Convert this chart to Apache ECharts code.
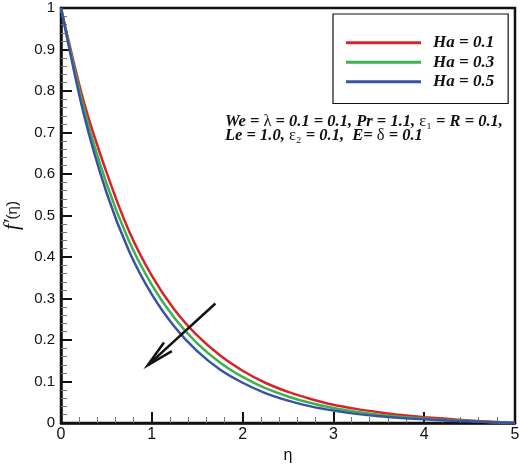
<!DOCTYPE html>
<html>
<head>
<meta charset="utf-8">
<script src="https://cdn.jsdelivr.net/npm/echarts@6/dist/echarts.min.js"></script>
<style>
html,body{margin:0;padding:0;background:#fff;}
#chart{width:520px;height:464px;}
</style>
</head>
<body>
<div id="chart"></div>
<script>
const eta   = [0, 0.25, 0.5, 0.75, 1.0, 1.25, 1.5, 1.75, 2.0, 2.25, 2.5, 2.75, 3.0, 3.25, 3.5, 3.75, 4.0, 4.25, 4.5, 4.75, 5.0];
const ha01  = [1.000, 0.775, 0.605, 0.462, 0.355, 0.273, 0.211, 0.163, 0.126, 0.097, 0.075, 0.058, 0.044, 0.034, 0.026, 0.019, 0.014, 0.010, 0.006, 0.003, 0.000];
const ha03  = [1.000, 0.760, 0.578, 0.438, 0.333, 0.253, 0.192, 0.146, 0.111, 0.084, 0.064, 0.048, 0.036, 0.027, 0.020, 0.015, 0.011, 0.007, 0.005, 0.002, 0.000];
const ha05  = [1.000, 0.745, 0.556, 0.414, 0.310, 0.232, 0.173, 0.129, 0.097, 0.072, 0.054, 0.040, 0.030, 0.022, 0.016, 0.012, 0.009, 0.006, 0.004, 0.002, 0.000];
const seriesNames = ['Ha = 0.1', 'Ha = 0.3', 'Ha = 0.5'];
const seriesColors = ['#d8232a', '#3bb34a', '#3953a4'];
const xTicks = [0, 1, 2, 3, 4, 5];
const yTicks = [0, 0.1, 0.2, 0.3, 0.4, 0.5, 0.6, 0.7, 0.8, 0.9, 1];
// arrow annotation: [start eta, start f', tip eta, tip f']
const arrow = [1.70, 0.288, 0.955, 0.139];

const chart = echarts.init(document.getElementById('chart'), null, {renderer: 'canvas'});
const toPairs = vals => eta.map((e, i) => [e, vals[i]]);
const curves = [ha01, ha03, ha05].map((vals, i) => ({
  name: seriesNames[i],
  type: 'line',
  data: toPairs(vals),
  smooth: 0.3,
  showSymbol: false,
  symbol: 'none',
  lineStyle: {color: seriesColors[i], width: 2.5},
  itemStyle: {color: seriesColors[i]},
  z: 2
}));

const axisFont = {fontFamily: 'Liberation Sans, Arial, sans-serif', color: '#111'};
chart.setOption({
  animation: false,
  backgroundColor: '#fff',
  grid: {left: 61, right: 5, top: 8, bottom: 41, show: true, borderColor: '#111', borderWidth: 2.5, backgroundColor: 'transparent', containLabel: false, outerBoundsMode: 'none'},
  legend: {
    data: seriesNames,
    orient: 'vertical',
    left: 333, top: 14,
    padding: [19, 14, 12, 13],
    itemGap: 0,
    itemWidth: 75, itemHeight: 3,
    icon: 'rect',
    borderColor: '#111', borderWidth: 1.2,
    backgroundColor: '#fff',
    selectedMode: false,
    textStyle: {fontFamily: 'Liberation Serif, Times New Roman, serif', fontStyle: 'italic', fontWeight: 'bold', fontSize: 17, color: '#111', lineHeight: 19.5, padding: [0, 0, 0, 7]}
  },
  xAxis: {
    type: 'value', min: 0, max: 5, interval: 1,
    name: 'η', nameLocation: 'middle', nameGap: 24,
    nameTextStyle: Object.assign({fontSize: 16}, axisFont),
    axisLine: {show: true, onZero: false, lineStyle: {color: '#111', width: 2.5}},
    axisTick: {show: true, inside: true, length: 11, lineStyle: {color: '#111', width: 2}},
    minorTick: {show: true, splitNumber: 5, length: 6, lineStyle: {color: '#777', width: 1}},
    axisLabel: Object.assign({fontSize: 16, margin: 4, formatter: v => xTicks.includes(v) ? String(v) : ''}, axisFont),
    splitLine: {show: false}
  },
  yAxis: {
    type: 'value', min: 0, max: 1, interval: 0.1,
    name: '{f|f\u2032}{p|(η)}', nameLocation: 'middle', nameGap: 36, nameRotate: 90,
    nameTextStyle: {rich: {
      f: {fontFamily: 'Liberation Serif, serif', fontStyle: 'italic', fontSize: 21, color: '#111'},
      p: {fontFamily: 'Liberation Sans, sans-serif', fontSize: 15, color: '#111'}
    }},
    axisLine: {show: true, onZero: false, lineStyle: {color: '#111', width: 2.5}},
    axisTick: {show: true, inside: true, length: 11, lineStyle: {color: '#111', width: 2}},
    minorTick: {show: true, splitNumber: 5, length: 6, lineStyle: {color: '#777', width: 1}},
    axisLabel: Object.assign({fontSize: 15, margin: 6, formatter: v => String(Math.round(v * 10) / 10)}, axisFont),
    splitLine: {show: false}
  },
  graphic: [{
    type: 'text', left: 225, top: 113, z: 10,
    style: {
      text: '{b|We = }{g|λ}{b| = 0.1 = 0.1, Pr = 1.1, }{g|ε\u2081}{b| = R = 0.1,}\n{b|Le = 1.0, }{g|ε\u2082}{b| = 0.1,  E= }{g|δ}{b| = 0.1}',
      rich: {
        b: {fontFamily: 'Liberation Serif, serif', fontStyle: 'italic', fontWeight: 'bold', fontSize: 16.5, lineHeight: 14, fill: '#111'},
        g: {fontFamily: 'Liberation Serif, serif', fontWeight: 'normal', fontSize: 16.5, lineHeight: 14, fill: '#111'}
      }
    }
  }],
  series: curves.concat([{
    type: 'custom',
    name: 'arrow',
    silent: true,
    z: 5,
    data: [arrow],
    encode: {x: [0, 2], y: [1, 3]},
    renderItem: (params, api) => {
      const s = api.coord([api.value(0), api.value(1)]);
      const t = api.coord([api.value(2), api.value(3)]);
      const ang = Math.atan2(s[1] - t[1], s[0] - t[0]);
      const L = 28, a = 0.21;
      const b1 = [t[0] + L * Math.cos(ang + a), t[1] + L * Math.sin(ang + a)];
      const b2 = [t[0] + L * Math.cos(ang - a), t[1] + L * Math.sin(ang - a)];
      return {type: 'group', children: [
        {type: 'line', shape: {x1: s[0], y1: s[1], x2: t[0], y2: t[1]}, style: {stroke: '#111', lineWidth: 2.5}},
        {type: 'polyline', shape: {points: [b1, t, b2]}, style: {stroke: '#111', lineWidth: 2.5, fill: null}}
      ]};
    }
  }])
});
</script>
</body>
</html>
